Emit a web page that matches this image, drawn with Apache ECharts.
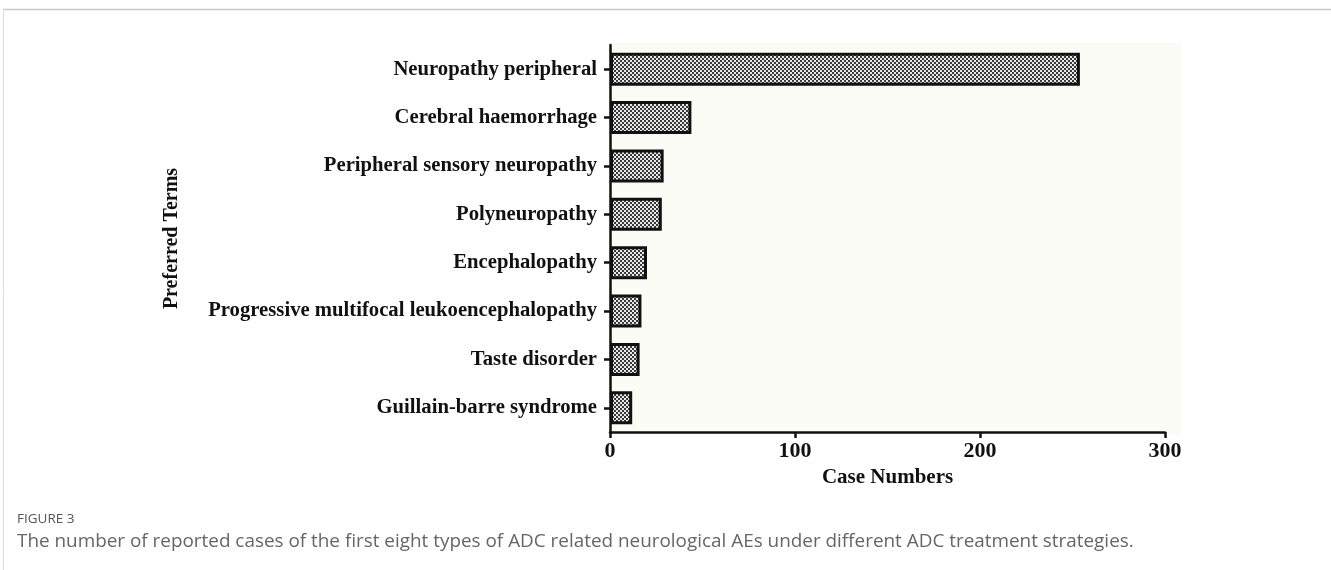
<!DOCTYPE html>
<html>
<head>
<meta charset="utf-8">
<script src="https://cdn.jsdelivr.net/npm/echarts@6/dist/echarts.min.js"></script>
<style>
html,body{margin:0;padding:0;background:#fff;}
#chart{width:1331px;height:570px;}
</style>
</head>
<body>
<div id="chart"></div>
<script>
const categories = [
  'Neuropathy peripheral',
  'Cerebral haemorrhage',
  'Peripheral sensory neuropathy',
  'Polyneuropathy',
  'Encephalopathy',
  'Progressive multifocal leukoencephalopathy',
  'Taste disorder',
  'Guillain-barre syndrome'
];
const caseNumbers = [254, 44, 29, 28, 20, 17, 16, 12];
const xTicks = [0, 100, 200, 300];
const xAxisTitle = 'Case Numbers';
const yAxisTitle = 'Preferred Terms';
const figureLabel = 'FIGURE 3';
const captionText = 'The number of reported cases of the first eight types of ADC related neurological AEs under different ADC treatment strategies.';

// checker pattern
const pc = document.createElement('canvas');
pc.width = 4; pc.height = 4;
const pctx = pc.getContext('2d');
pctx.fillStyle = '#e8e8e8'; pctx.fillRect(0,0,4,4);
pctx.fillStyle = '#3a3a3a';
pctx.fillRect(0,0,2,2); pctx.fillRect(2,2,2,2);

const serif = '"Liberation Serif", "Times New Roman", serif';
const chart = echarts.init(document.getElementById('chart'), null, {renderer:'canvas'});
chart.setOption({
  backgroundColor: '#ffffff',
  animation: false,
  graphic: [
    {type:'line', shape:{x1:3,y1:9.5,x2:1331,y2:9.5}, style:{stroke:'#c8c8c8', lineWidth:1.5}, z:-1},
    {type:'line', shape:{x1:3.5,y1:9,x2:3.5,y2:570}, style:{stroke:'#dcdcdc', lineWidth:1}, z:-1},
    {type:'rect', shape:{x:609,y:43,width:573,height:392}, style:{fill:'#fcfcf7'}, z:-2},
    {type:'text', left:17, top:512, style:{text:figureLabel, font:'13.5px "Open Sans", sans-serif', fill:'#555'}},
    {type:'text', left:17, top:532, style:{text:captionText, font:'18.9px "Open Sans", sans-serif', fill:'#666'}}
  ],
  grid: {left:610, right:166, top:45, bottom:138, containLabel:false},
  xAxis: {
    type:'value', min:0, max:300, interval:100,
    name: xAxisTitle, nameLocation:'middle', nameGap:35,
    nameTextStyle:{fontFamily:serif, fontWeight:'bold', fontSize:21, color:'#111'},
    axisLine:{show:true, lineStyle:{color:'#111', width:2.5}},
    axisTick:{show:true, length:6, lineStyle:{color:'#111', width:2.5}},
    axisLabel:{margin:8, fontFamily:serif, fontWeight:'bold', fontSize:22, color:'#111',
      formatter: v => xTicks.includes(v) ? String(v) : ''},
    splitLine:{show:false}
  },
  yAxis: {
    type:'category', data: categories, inverse:true,
    name: yAxisTitle, nameLocation:'middle', nameGap:428, nameRotate:90,
    nameTextStyle:{fontFamily:serif, fontWeight:'bold', fontSize:20, color:'#111'},
    axisLine:{show:true, lineStyle:{color:'#111', width:2.5}},
    axisTick:{show:true, alignWithLabel:true, length:6, lineStyle:{color:'#111', width:2.5}},
    axisLabel:{margin:13, fontFamily:serif, fontWeight:'bold', fontSize:20.7, color:'#111'},
    splitLine:{show:false}
  },
  series: [{
    type:'bar', data: caseNumbers, barCategoryGap:'32%',
    itemStyle:{color:{image:pc, repeat:'repeat'}, borderColor:'#111', borderWidth:3}
  }]
});
</script>
</body>
</html>
